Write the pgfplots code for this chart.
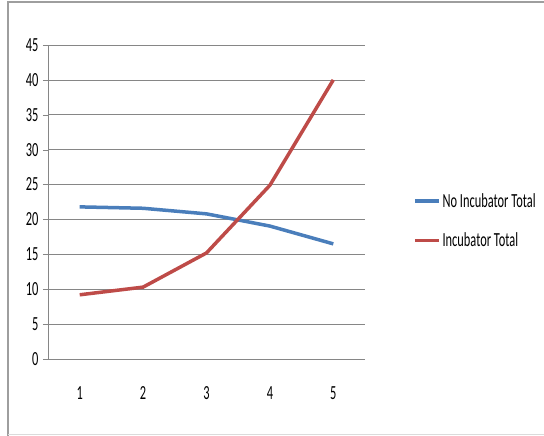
\documentclass[border=0pt]{standalone}
\usepackage{pgfplots}
\pgfplotsset{compat=1.18}
\usepackage{fontspec}
\setmainfont{Carlito}[FakeStretch=0.62]
\definecolor{xlblue}{HTML}{4A7EBB}
\definecolor{xlred}{HTML}{BE4B48}
\definecolor{xlgrid}{HTML}{868686}
\begin{document}
\begin{tikzpicture}[x=1pt,y=1pt]
\useasboundingbox (0,0) rectangle (544,436);
\draw[xlgrid!80,line width=1.2pt] (8,0) -- (8,434) -- (544,434);
\draw[xlgrid!30,line width=0.8pt] (8,1.5) -- (544,1.5);
\begin{axis}[
  at={(48pt,77pt)}, anchor=south west,
  scale only axis, width=317pt, height=314pt,
  xmin=0.5, xmax=5.5, ymin=0, ymax=45,
  xtick={1,2,3,4,5}, xticklabels={1,2,3,4,5},
  major x tick style={draw=none},
  extra x ticks={0.5,1.5,2.5,3.5,4.5,5.5},
  extra x tick labels={},
  extra x tick style={tick style={draw=xlgrid}, major tick length=6pt, tick align=outside, grid=none},
  ytick={0,5,...,45},
  ymajorgrids, grid style={xlgrid, line width=0.6pt},
  y tick style={draw=xlgrid}, major tick length=5pt, tick align=outside,
  axis x line*=bottom, axis y line*=left,
  axis line style={xlgrid, line width=0.6pt, -},
  x tick label style={yshift=-19pt},
  y tick label style={xshift=-1pt},
  tick label style={font=\fontsize{20}{22}\selectfont},
  /pgf/number format/assume math mode=true,
  legend style={at={(1.151,0.535)}, anchor=north west, draw=none, fill=none,
    font=\fontsize{20}{22}\selectfont, row sep=20pt, inner sep=0pt,
    /tikz/every even column/.append style={column sep=2pt}},
  legend cell align=left,
  legend image code/.code={\draw[#1,line width=3.5pt] (0pt,0pt) -- (24pt,0pt);},
]
\addplot[xlblue, line width=3.5pt] coordinates {(1,21.8) (2,21.6) (3,20.8) (4,19.05) (5,16.5)};
\addlegendentry{No Incubator Total}
\addplot[xlred, line width=3.5pt] coordinates {(1,9.2) (2,10.3) (3,15.2) (4,24.9) (5,40)};
\addlegendentry{Incubator Total}
\end{axis}
\end{tikzpicture}
\end{document}
